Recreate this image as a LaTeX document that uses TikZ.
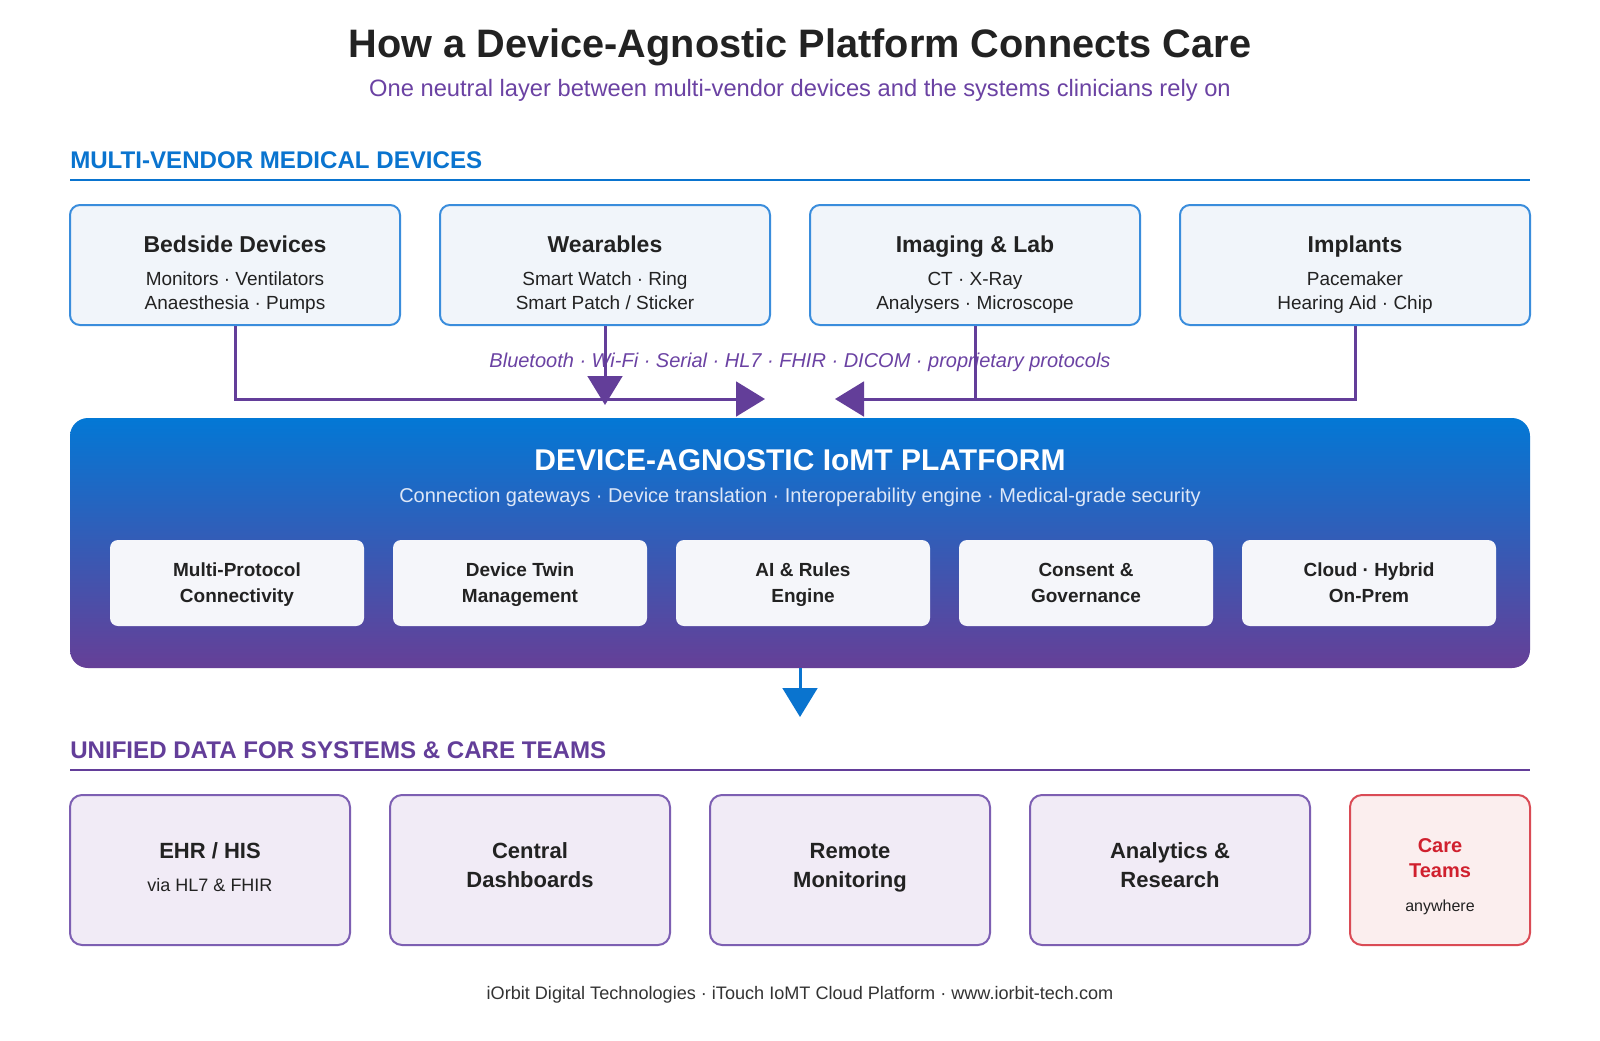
\documentclass[tikz,border=0pt]{standalone}
\usepackage{fontspec}
\setmainfont{Liberation Sans}
\usetikzlibrary{arrows.meta}
\definecolor{hblue}{HTML}{0A74CF}
\definecolor{hpurple}{HTML}{633E99}
\definecolor{subpurple}{HTML}{6B42A3}
\definecolor{ink}{HTML}{222222}
\definecolor{devfill}{HTML}{F1F5FA}
\definecolor{devline}{HTML}{3A8DDC}
\definecolor{outfill}{HTML}{F1EBF6}
\definecolor{outstroke}{HTML}{7D5FB2}
\definecolor{redtxt}{HTML}{D0202E}
\definecolor{redline}{HTML}{DA4B55}
\definecolor{redfill}{HTML}{FBEEEE}
\definecolor{gradtop}{HTML}{0378D5}
\definecolor{gradbot}{HTML}{663F97}
\definecolor{innerfill}{HTML}{F5F6FA}
\definecolor{subwhite}{HTML}{DDE7F7}
\definecolor{foot}{HTML}{333333}
\newcommand\pxf[1]{\fontsize{\dimexpr #1pt*3/4\relax}{\dimexpr #1pt*9/10\relax}\selectfont}
\begin{document}
\begin{tikzpicture}[x=0.75pt,y=-0.75pt,
  txt/.style={inner sep=0pt, anchor=base},
  devbox/.style={draw=devline, fill=devfill, line width=1.5pt, rounded corners=7.5pt, inner sep=0pt, minimum height=90pt},
  innerbox/.style={fill=innerfill, rounded corners=6pt, inner sep=0pt, minimum width=190.5pt, minimum height=64.5pt},
  outbox/.style={draw=outstroke, fill=outfill, line width=1.5pt, rounded corners=9pt, inner sep=0pt, minimum width=210pt, minimum height=112.5pt},
  flowline/.style={draw=hpurple, line width=2.25pt},
  flow/.style={flowline, -{Triangle[length=21.75pt,width=26pt]}},
  flowblue/.style={draw=hblue, line width=2.25pt, -{Triangle[length=21.75pt,width=26pt]}},
  devtitle/.style={txt, font=\pxf{23}\bfseries, text=ink},
  devsub/.style={txt, font=\pxf{19}, text=ink},
  intext/.style={txt, font=\pxf{19}\bfseries, text=ink},
  outtitle/.style={txt, font=\pxf{22}\bfseries, text=ink},
]
\useasboundingbox (0,0) rectangle (1600,1040);
\fill[white] (0,0) rectangle (1600,1040);

% title
\node[txt, font=\pxf{39.7}\bfseries, text=ink] (title) at (800,57.5) {How a Device-Agnostic Platform Connects Care};
\node[txt, font=\pxf{23.7}, text=subpurple] (subtitle) at (800,96) {One neutral layer between multi-vendor devices and the systems clinicians rely on};

% section 1
\node[txt, anchor=base west, font=\pxf{24.1}\bfseries, text=hblue] (sec1) at (70,168.5) {MULTI-VENDOR MEDICAL DEVICES};
\coordinate (r1a) at (70,180); \coordinate (r1b) at (1530,180);
\draw[hblue, line width=1.9pt] (r1a) -- (r1b);

% device boxes
\node[devbox, minimum width=247.5pt] (d1) at (235,265) {};
\node[devbox, minimum width=247.5pt] (d2) at (605,265) {};
\node[devbox, minimum width=247.5pt] (d3) at (975,265) {};
\node[devbox, minimum width=262.5pt] (d4) at (1355,265) {};

\node[devtitle] (d1t) at (235,252) {Bedside Devices};
\node[devsub] (d1s) at (235,285.5) {Monitors · Ventilators};
\node[devsub] (d1u) at (235,309.5) {Anaesthesia · Pumps};
\node[devtitle] (d2t) at (605,252) {Wearables};
\node[devsub] (d2s) at (605,285.5) {Smart Watch · Ring};
\node[devsub] (d2u) at (605,309.5) {Smart Patch / Sticker};
\node[devtitle] (d3t) at (975,252) {Imaging \& Lab};
\node[devsub] (d3s) at (975,285.5) {CT · X-Ray};
\node[devsub] (d3u) at (975,309.5) {Analysers · Microscope};
\node[devtitle] (d4t) at (1355,252) {Implants};
\node[devsub] (d4s) at (1355,285.5) {Pacemaker};
\node[devsub] (d4u) at (1355,309.5) {Hearing Aid · Chip};

% protocols
\node[txt, font=\pxf{20}\itshape, text=subpurple] (proto) at (800,367) {Bluetooth · Wi-Fi · Serial · HL7 · FHIR · DICOM · proprietary protocols};

% connectors
\coordinate (tipL) at (765,399);
\coordinate (tipR) at (835,399);
\coordinate (tipD) at (605,405);
\draw[flow] (d2.south) -- (tipD);
\draw[flow] (d1.south) |- (tipL);
\draw[flowline] (d3.south) -- (d3.south |- tipR);
\draw[flow] (d4.south) |- (tipR);

% platform
\node[rounded corners=13.5pt, top color=gradtop, bottom color=gradbot, draw=none, inner sep=0pt, minimum width=1095pt, minimum height=187.5pt] (plat) at (800,543) {};
\node[txt, font=\pxf{30}\bfseries, text=white] (platt) at (800,470) {DEVICE-AGNOSTIC IoMT PLATFORM};
\node[txt, font=\pxf{20}, text=subwhite] (plats) at (800,502) {Connection gateways · Device translation · Interoperability engine · Medical-grade security};

\node[innerbox] (m1) at (237,583) {};
\node[innerbox] (m2) at (520,583) {};
\node[innerbox] (m3) at (803,583) {};
\node[innerbox] (m4) at (1086,583) {};
\node[innerbox] (m5) at (1369,583) {};
\node[intext] (m1a) at (237,576) {Multi-Protocol};
\node[intext] (m1b) at (237,602) {Connectivity};
\node[intext] (m2a) at (520,576) {Device Twin};
\node[intext] (m2b) at (520,602) {Management};
\node[intext] (m3a) at (803,576) {AI \& Rules};
\node[intext] (m3b) at (803,602) {Engine};
\node[intext] (m4a) at (1086,576) {Consent \&};
\node[intext] (m4b) at (1086,602) {Governance};
\node[intext] (m5a) at (1369,576) {Cloud · Hybrid};
\node[intext] (m5b) at (1369,602) {On-Prem};

% down arrow
\coordinate (tipO) at (800,717);
\draw[flowblue] (plat.south) -- (tipO);

% section 2
\node[txt, anchor=base west, font=\pxf{24.1}\bfseries, text=hpurple] (sec2) at (70,758) {UNIFIED DATA FOR SYSTEMS \& CARE TEAMS};
\coordinate (r2a) at (70,770); \coordinate (r2b) at (1530,770);
\draw[hpurple, line width=1.9pt] (r2a) -- (r2b);

% output boxes
\node[outbox] (o1) at (210,870) {};
\node[outbox] (o2) at (530,870) {};
\node[outbox] (o3) at (850,870) {};
\node[outbox] (o4) at (1170,870) {};
\node[outbox, draw=redline, fill=redfill, minimum width=135pt] (o5) at (1440,870) {};

\node[outtitle] (o1a) at (210,858) {EHR / HIS};
\node[txt, font=\pxf{18}, text=ink] (o1b) at (210,891.5) {via HL7 \& FHIR};
\node[outtitle] (o2a) at (530,858) {Central};
\node[outtitle] (o2b) at (530,887.5) {Dashboards};
\node[outtitle] (o3a) at (850,858) {Remote};
\node[outtitle] (o3b) at (850,887.5) {Monitoring};
\node[outtitle] (o4a) at (1170,858) {Analytics \&};
\node[outtitle] (o4b) at (1170,887.5) {Research};
\node[txt, font=\pxf{20}\bfseries, text=redtxt] (o5a) at (1440,852) {Care};
\node[txt, font=\pxf{20}\bfseries, text=redtxt] (o5b) at (1440,877.5) {Teams};
\node[txt, font=\pxf{16}, text=ink] (o5c) at (1440,911.5) {anywhere};

% footer
\node[txt, font=\pxf{18.1}, text=foot] (footer) at (800,999) {iOrbit Digital Technologies · iTouch IoMT Cloud Platform · www.iorbit-tech.com};
\end{tikzpicture}
\end{document}
